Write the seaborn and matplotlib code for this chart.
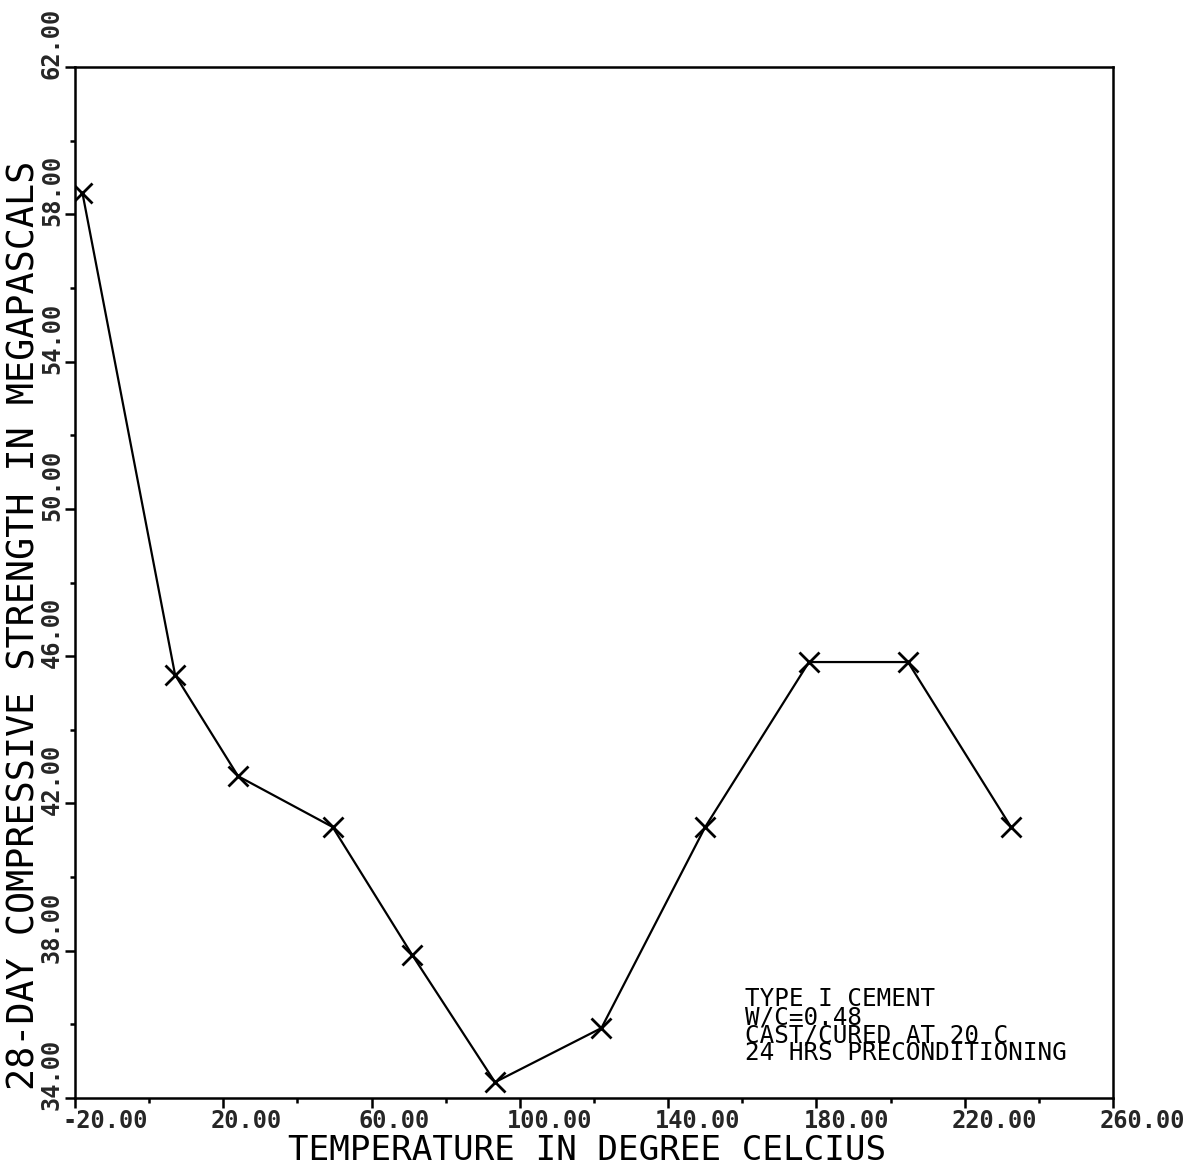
import matplotlib
matplotlib.use('Agg')
import matplotlib.pyplot as plt
import matplotlib.transforms as mtransforms
import seaborn as sns

# values
temperature_c = [-18.0, 7.0, 24.0, 49.5, 71.0, 93.3, 122.0, 150.0, 178.0, 204.7, 232.5]
strength_mpa = [58.58, 45.49, 42.74, 41.36, 37.88, 34.43, 35.90, 41.36, 45.84, 45.84, 41.36]

x_ticks = [-20, 20, 60, 100, 140, 180, 220, 260]
x_minor = [0, 40, 80, 120, 160, 200, 240]
y_ticks = [34, 38, 42, 46, 50, 54, 58, 62]
y_minor = [36, 40, 44, 48, 52, 56, 60]

notes = ['TYPE I CEMENT', 'W/C=0.48', 'CAST/CURED AT 20 C', '24 HRS PRECONDITIONING']

sns.set_theme(style='ticks')
plt.rcParams['font.family'] = ['DejaVu Sans Mono', 'DejaVu Sans']
plt.rcParams['axes.linewidth'] = 1.8

fig = plt.figure(figsize=(12.04, 11.67), dpi=100)
ax = fig.add_axes([0.0623, 0.0591, 0.8621, 0.8835])

sns.lineplot(x=temperature_c, y=strength_mpa, ax=ax, color='black', lw=1.6,
             marker='x', markersize=14, markeredgewidth=2, markeredgecolor='black')

ax.set_xlim(-20, 260)
ax.set_ylim(34, 62)
for s in ax.spines.values():
    s.set_color('black')

ax.set_xticks(x_ticks)
ax.set_xticks(x_minor, minor=True)
ax.set_yticks(y_ticks)
ax.set_yticks(y_minor, minor=True)
ax.set_xticklabels([f'{v:.2f}' for v in x_ticks], fontsize=17, fontweight='bold', ha='left')
ax.set_yticklabels([f'{v:.2f}' for v in y_ticks], fontsize=17, fontweight='bold',
                   rotation=90, ha='right', va='bottom')
ax.tick_params(axis='both', which='major', length=7, width=1.8, color='black', direction='out')
ax.tick_params(axis='both', which='minor', length=3.5, width=1.8, color='black', direction='out')
ax.tick_params(axis='x', which='major', pad=1)
ax.tick_params(axis='y', which='major', pad=1)

# plotter style: labels start at the tick rather than centred on it
dx = mtransforms.ScaledTranslation(-13 / 100, 0, fig.dpi_scale_trans)
for lab in ax.get_xticklabels():
    lab.set_transform(lab.get_transform() + dx)
dy = mtransforms.ScaledTranslation(0, -12 / 100, fig.dpi_scale_trans)
for lab in ax.get_yticklabels():
    lab.set_transform(lab.get_transform() + dy)

ax.set_xlabel('TEMPERATURE IN DEGREE CELCIUS', fontsize=24.7, color='black', va='center')
ax.xaxis.set_label_coords(0.493, -0.0510)
ax.set_ylabel('28-DAY COMPRESSIVE STRENGTH IN MEGAPASCALS', fontsize=26.5, color='black', va='center')
ax.yaxis.set_label_coords(-0.0495, 0.458)

# note block, tightly stacked like the original plotter output
ax.text(0.6455, 0.1075, '\n'.join(notes), transform=ax.transAxes,
        fontsize=17.5, va='top', ha='left', color='black', linespacing=0.68)

fig.savefig('out.png', dpi=100, facecolor='white')
